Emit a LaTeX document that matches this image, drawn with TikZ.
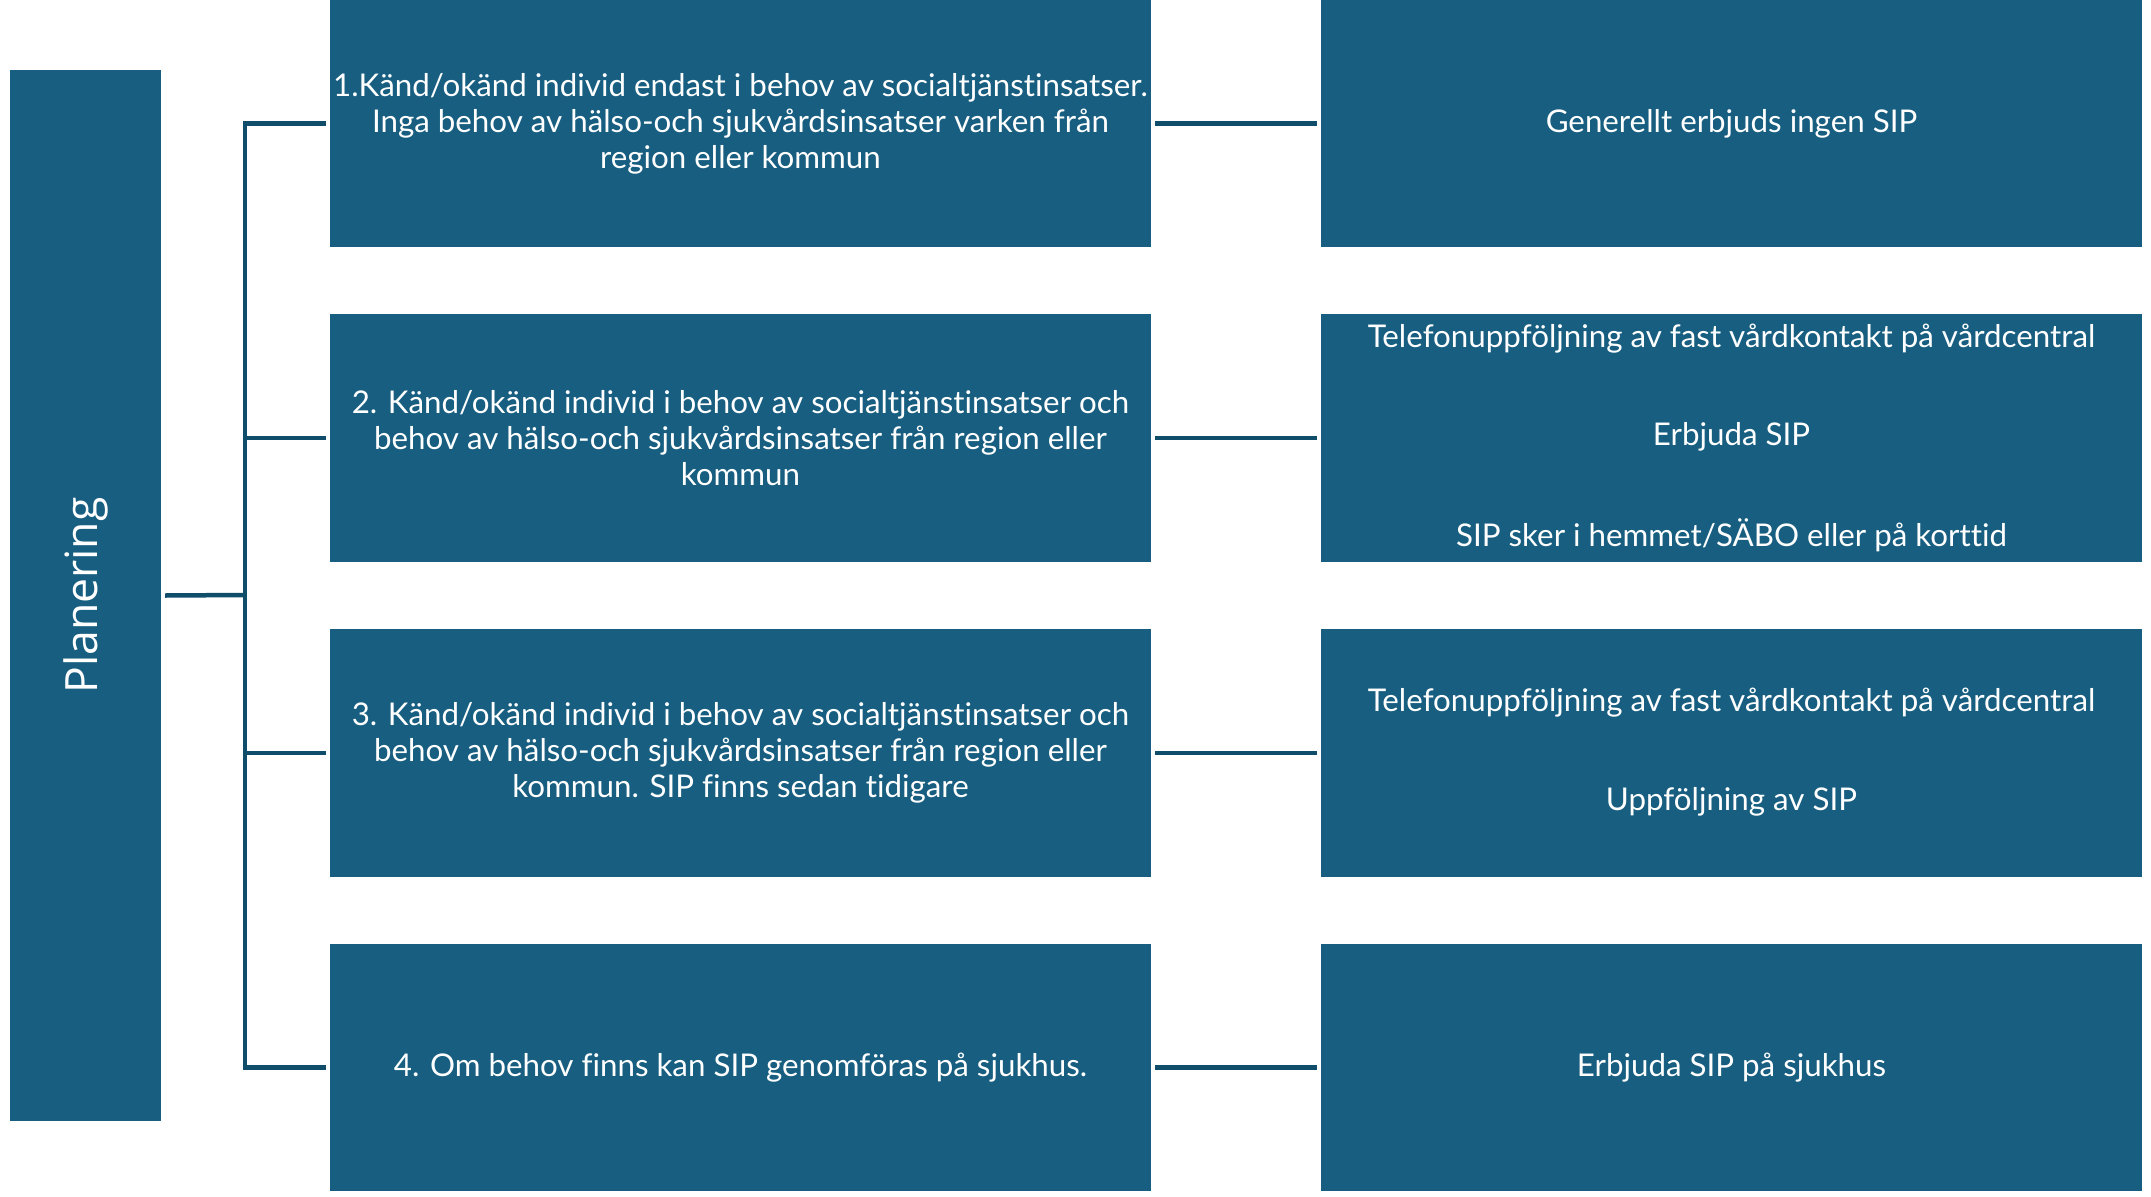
\documentclass[tikz,border=0pt]{standalone}
\usepackage{fontspec}
\setmainfont{Lato}[Ligatures={NoCommon}]
\newfontfamily\plfont{Open Sans}
\definecolor{boxblue}{HTML}{175E80}
\definecolor{lineblue}{HTML}{0F4D6B}
\begin{document}
\begin{tikzpicture}[x=1pt,y=-1pt,
  bluebox/.style={fill=boxblue, draw=none, inner sep=0pt, text=white},
  boxtext/.style={text=white, align=center, font=\fontsize{31.3}{36}\selectfont},
  conn/.style={draw=lineblue, line width=4.5pt}]
\useasboundingbox (0,0) rectangle (2151,1196);
\fill[white] (0,0) rectangle (2151,1196);
% left box
\node[bluebox, minimum width=151pt, minimum height=1051pt] (L) at (85.5,595.5) {};
\node[rotate=90, text=white, font=\plfont\fontsize{44.5}{52}\selectfont] (Lt) at (L.center) {Planering};
% middle boxes
\node[bluebox, minimum width=821pt, minimum height=247pt] (m1) at (740.5,123.5) {};
\node[bluebox, minimum width=821pt, minimum height=248pt] (m2) at (740.5,438) {};
\node[bluebox, minimum width=821pt, minimum height=248pt] (m3) at (740.5,753) {};
\node[bluebox, minimum width=821pt, minimum height=247pt] (m4) at (740.5,1067.5) {};
% right boxes
\node[bluebox, minimum width=821pt, minimum height=247pt] (r1) at (1731.5,123.5) {};
\node[bluebox, minimum width=821pt, minimum height=248pt] (r2) at (1731.5,438) {};
\node[bluebox, minimum width=821pt, minimum height=248pt] (r3) at (1731.5,753) {};
\node[bluebox, minimum width=821pt, minimum height=247pt] (r4) at (1731.5,1067.5) {};
% middle texts
\node[boxtext] (t1) at (m1.center) {1.Känd/okänd individ endast i behov av socialtjänstinsatser.\\Inga behov av hälso-och sjukvårdsinsatser varken från\\region eller kommun};
\node[boxtext] (t2) at (m2.center) {2. Känd/okänd individ i behov av socialtjänstinsatser och\\behov av hälso-och sjukvårdsinsatser från region eller\\kommun};
\node[boxtext] (t3) at (m3.center) {3. Känd/okänd individ i behov av socialtjänstinsatser och\\behov av hälso-och sjukvårdsinsatser från region eller\\kommun. SIP finns sedan tidigare};
\node[boxtext] (t4) at (m4.center) {4. Om behov finns kan SIP genomföras på sjukhus.};
% right texts
\node[boxtext] (u1) at (r1.center) {Generellt erbjuds ingen SIP};
\node[boxtext] (u2a) at (1731.5,339) {Telefonuppföljning av fast vårdkontakt på vårdcentral};
\node[boxtext] (u2b) at (1731.5,437) {Erbjuda SIP};
\node[boxtext] (u2c) at (1731.5,535) {SIP sker i hemmet/SÄBO eller på korttid};
\node[boxtext] (u3a) at (1731.5,703) {Telefonuppföljning av fast vårdkontakt på vårdcentral};
\node[boxtext] (u3b) at (1731.5,802) {Uppföljning av SIP};
\node[boxtext] (u4) at (r4.center) {Erbjuda SIP på sjukhus};
% connectors
\coordinate (sp) at (245,595);
\draw[conn] (L.east) ++(4,0) -- (sp);
\draw[conn] ([xshift=-4pt]m1.west) -| (sp) |- ([xshift=-4pt]m4.west);
\draw[conn] ([xshift=-4pt]m2.west) -- (sp |- m2.west);
\draw[conn] ([xshift=-4pt]m3.west) -- (sp |- m3.west);
\draw[conn] ([xshift=4pt]m1.east) -- ([xshift=-4pt]r1.west);
\draw[conn] ([xshift=4pt]m2.east) -- ([xshift=-4pt]r2.west);
\draw[conn] ([xshift=4pt]m3.east) -- ([xshift=-4pt]r3.west);
\draw[conn] ([xshift=4pt]m4.east) -- ([xshift=-4pt]r4.west);
\end{tikzpicture}
\end{document}
